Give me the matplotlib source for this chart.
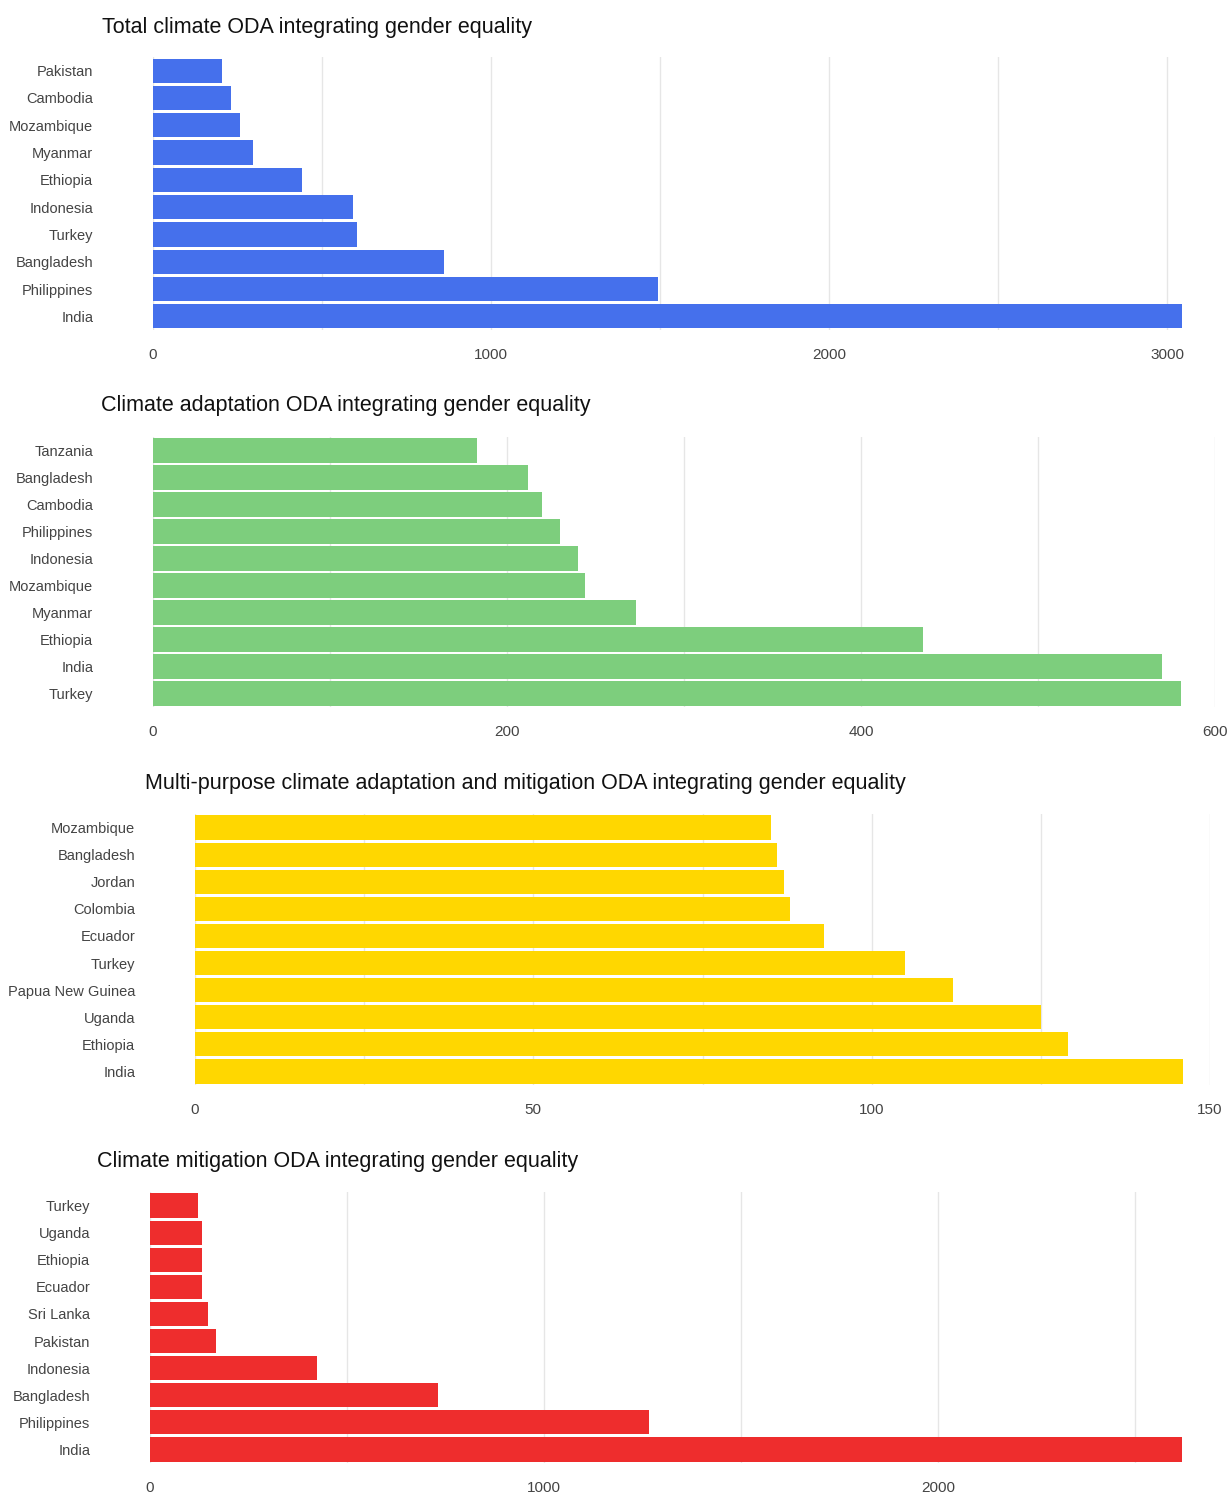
import matplotlib
matplotlib.use("Agg")
import matplotlib.pyplot as plt
from matplotlib.ticker import MultipleLocator

plt.rcParams['font.family'] = ['Liberation Sans', 'DejaVu Sans']

# Total climate ODA integrating gender equality
total_countries = ["Pakistan", "Cambodia", "Mozambique", "Myanmar", "Ethiopia",
                   "Indonesia", "Turkey", "Bangladesh", "Philippines", "India"]
total_values = [204, 231, 257, 296, 441, 592, 604, 861, 1494, 3044]

# Climate adaptation ODA
adapt_countries = ["Tanzania", "Bangladesh", "Cambodia", "Philippines", "Indonesia",
                   "Mozambique", "Myanmar", "Ethiopia", "India", "Turkey"]
adapt_values = [183, 212, 220, 230, 240, 244, 273, 435, 570, 581]

# Multi-purpose adaptation and mitigation ODA
multi_countries = ["Mozambique", "Bangladesh", "Jordan", "Colombia", "Ecuador",
                   "Turkey", "Papua New Guinea", "Uganda", "Ethiopia", "India"]
multi_values = [85.1, 86.0, 87.0, 88.0, 93.0, 104.9, 112.0, 125.0, 129.0, 146.0]

# Climate mitigation ODA
mitig_countries = ["Turkey", "Uganda", "Ethiopia", "Ecuador", "Sri Lanka",
                   "Pakistan", "Indonesia", "Bangladesh", "Philippines", "India"]
mitig_values = [122, 132, 132, 132, 147, 168, 424, 731, 1266, 2619]

W, H = 1229, 1497

panels = [
    dict(title="Total climate ODA integrating gender equality",
         countries=total_countries, values=total_values, color="#4570EC",
         left=153, right=1182, top=57, bottom=330, xmax=3044,
         major=1000, grid=500, tx=102, ty=28),
    dict(title="Climate adaptation ODA integrating gender equality",
         countries=adapt_countries, values=adapt_values, color="#7DCE7D",
         left=153, right=1215, top=437, bottom=707, xmax=600,
         major=200, grid=100, tx=101, ty=405),
    dict(title="Multi-purpose climate adaptation and mitigation ODA integrating gender equality",
         countries=multi_countries, values=multi_values, color="#FFD700",
         left=195, right=1210, top=814, bottom=1085, xmax=150,
         major=50, grid=25, tx=145, ty=783),
    dict(title="Climate mitigation ODA integrating gender equality",
         countries=mitig_countries, values=mitig_values, color="#EE2D2D",
         left=150, right=1182, top=1192, bottom=1463, xmax=2619,
         major=1000, grid=500, tx=97, ty=1161),
]

fig = plt.figure(figsize=(W / 100, H / 100), dpi=100)

for p in panels:
    ax = fig.add_axes([p["left"] / W, 1 - p["bottom"] / H,
                       (p["right"] - p["left"]) / W,
                       (p["bottom"] - p["top"]) / H])
    n = len(p["countries"])
    ax.barh(range(n), p["values"], height=0.89, color=p["color"], zorder=2)
    ax.set_ylim(n - 0.5, -0.5)
    ax.set_xlim(0, p["xmax"])
    ax.set_yticks(range(n))
    ax.set_yticklabels(p["countries"], va="center_baseline")
    ax.xaxis.set_major_locator(MultipleLocator(p["major"]))
    ax.xaxis.set_minor_locator(MultipleLocator(p["grid"]))
    ax.grid(True, axis="x", which="both", color="#e6e6e6", linewidth=1, zorder=0)
    for s in ax.spines.values():
        s.set_visible(False)
    ax.tick_params(axis="both", which="both", length=0, labelcolor="#444444")
    ax.tick_params(axis="x", pad=13, labelsize=11)
    ax.tick_params(axis="y", pad=43, labelsize=10.5)
    fig.text(p["tx"] / W, 1 - p["ty"] / H, p["title"], fontsize=15.5,
             color="#111111", ha="left", va="center")

fig.savefig("out.png", dpi=100)
